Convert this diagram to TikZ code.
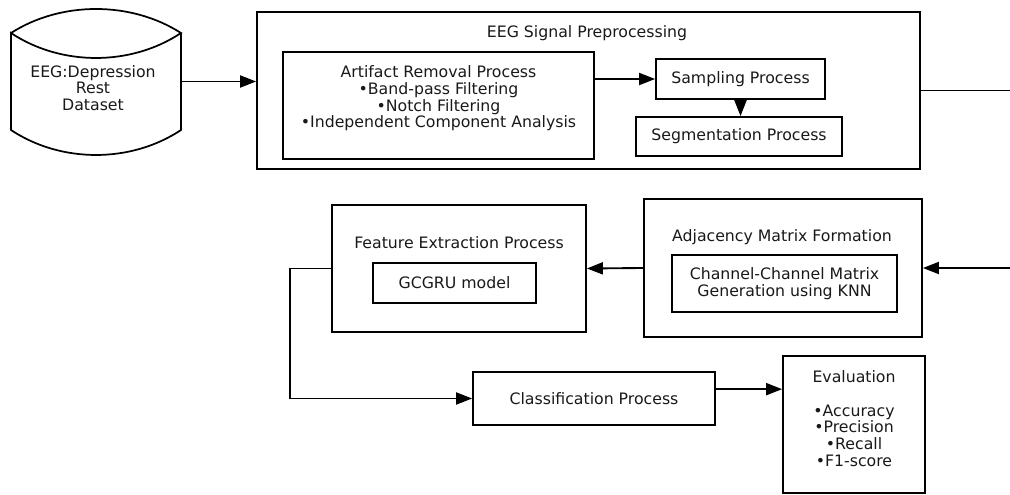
\documentclass[tikz,border=0pt]{standalone}
\usepackage{fontspec}
\setmainfont{DejaVu Sans}
\usetikzlibrary{arrows.meta}
\begin{document}
\begin{tikzpicture}[x=0.75pt,y=-0.75pt,
  every node/.style={font=\fontsize{11.8}{12.5}\selectfont, text=black!90},
  box/.style={draw, line width=1.3pt, inner sep=0pt, align=center},
  lbl/.style={inner sep=0pt, align=center},
  conn/.style={line width=1.4pt},
  arr/.style={conn, -{Triangle[length=12pt,width=9pt]}}]
\useasboundingbox (0,0) rectangle (1010,495);
% database cylinder
\node[lbl, minimum width=127.5pt, minimum height=72.75pt] (db) at (96,81.5) {};
\node[lbl] (dbt) at (93,88) {EEG:Depression\\Rest\\Dataset};
\draw[line width=1.3pt] (11,33) .. controls (61,1) and (131,1) .. (181,33)
  .. controls (131,66.3) and (61,66.3) .. (11,33) -- (11,130)
  .. controls (61,163.3) and (131,163.3) .. (181,130) -- (181,33);
% preprocessing
\node[box, minimum width=497.25pt, minimum height=117.75pt] (pre) at (588.5,90.5) {};
\node[lbl] (pret) at (587,33) {EEG Signal Preprocessing};
\node[box, minimum width=233.25pt, minimum height=80.25pt] (art) at (438.5,105.5) {};
\node[lbl] (artt) at (438.5,98.5)
  {Artifact Removal Process\\•Band-pass Filtering\\•Notch Filtering\\•Independent Component Analysis};
\node[box, minimum width=126.75pt, minimum height=30pt] (samp) at (740.5,79) {Sampling Process};
\node[box, minimum width=154.5pt, minimum height=29.25pt] (seg) at (739,136.5) {Segmentation Process};
% feature extraction
\node[box, minimum width=190.5pt, minimum height=95.25pt] (feat) at (459,268.5) {};
\node[lbl] (featt) at (459,243) {Feature Extraction Process};
\node[box, minimum width=122.25pt, minimum height=30pt] (gc) at (454.5,283) {GCGRU model};
% adjacency
\node[box, minimum width=208.5pt, minimum height=103.5pt] (adj) at (783,268) {};
\node[lbl] (adjt) at (782,237) {Adjacency Matrix Formation};
\node[box, minimum width=168.75pt, minimum height=42.75pt] (knn) at (784.5,283.5)
  {Channel-Channel Matrix\\Generation using KNN};
% classification and evaluation
\node[box, minimum width=181.5pt, minimum height=39.75pt] (cls) at (594,398.5) {Classification Process};
\node[box, minimum width=106.5pt, minimum height=102.75pt] (ev) at (854,424.5) {};
\node[lbl] (evt) at (854,418.5) {Evaluation\\[12.5pt]•Accuracy\\•Precision\\•Recall\\•F1-score};
% connectors
\coordinate (outR) at (1010,90.5);
\coordinate (inR) at (1010,268);
\draw[arr] (db.east) -- (db.east -| pre.west);
\draw[arr] (art.east |- samp.west) -- (samp.west);
\draw[arr] (samp.south) -- (samp.south |- seg.north);
\draw[conn] (pre.east) -- (outR);
\draw[arr] (inR) -- (adj.east);
\draw[arr] (adj.west) -- (feat.east);
\draw[arr] (feat.west) -- ++(-41,0) |- (cls.west);
\draw[arr] ([yshift=7pt]cls.east) -- ([yshift=7pt]cls.east -| ev.west);
\end{tikzpicture}
\end{document}
